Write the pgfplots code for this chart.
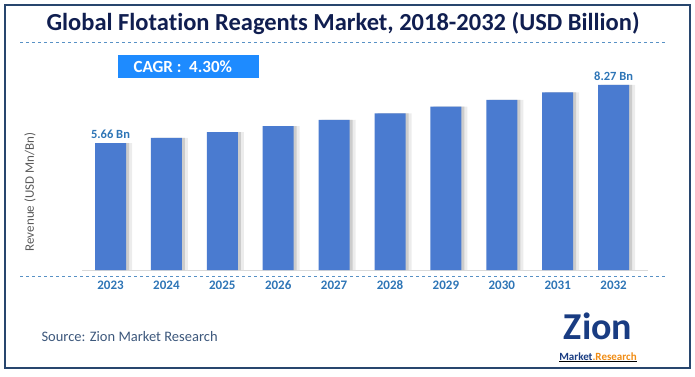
\documentclass[border=0pt]{standalone}
\usepackage{pgfplots}
\pgfplotsset{compat=1.18}
\usepackage{fontspec}
\setmainfont{Carlito}[Ligatures=NoCommon]
\definecolor{barblue}{RGB}{74,123,208}
\definecolor{titlenavy}{RGB}{16,30,80}
\definecolor{labblue}{RGB}{46,117,182}
\definecolor{cagrblue}{RGB}{30,139,255}
\definecolor{frame}{RGB}{40,70,110}
\definecolor{zorange}{RGB}{240,140,20}
\definecolor{znavy}{RGB}{25,60,130}
\begin{document}
\begin{tikzpicture}[x=1pt,y=1pt]
\path (0,0) rectangle (695,376);
\draw[frame,line width=1.2pt] (5,8) rectangle (690,371);
\node[font=\fontsize{24.5}{28}\selectfont\bfseries,text=titlenavy] at (343,353) {Global Flotation Reagents Market, 2018-2032 (USD Billion)};
\draw[labblue!80,dashed,line width=0.6pt] (20,334) -- (665,334);
\fill[cagrblue] (118,298) rectangle (259,321);
\node[font=\fontsize{17}{19}\selectfont\bfseries,text=white,anchor=west] at (130,309.5) {CAGR :\ \ 4.30\%};
\begin{axis}[
  at={(82pt,106pt)}, anchor=south west,
  scale only axis, width=566pt, height=200pt,
  xmin=-0.51, xmax=9.615, ymin=0, ymax=8.93,
  axis y line=none, axis x line*=bottom,
  x axis line style={gray!30,line width=0.8pt,-},
  xtick=data, xtick style={draw=none},
  xticklabels={2023,2024,2025,2026,2027,2028,2029,2030,2031,2032},
  xticklabel style={font=\fontsize{13}{15}\selectfont\bfseries,text=labblue,yshift=-3pt},
  ybar, bar width=31pt,
  clip=false,
  point meta=explicit symbolic,
  nodes near coords={\pgfplotspointmeta},
  nodes near coords style={font=\fontsize{12.5}{14}\selectfont\bfseries,text=labblue,yshift=1pt},
]
\addplot[draw=none,fill=gray!15,bar shift=6pt,nodes near coords={}] table[meta=lab] {
x y lab
0 5.66 {}
1 5.90 {}
2 6.16 {}
3 6.42 {}
4 6.70 {}
5 6.99 {}
6 7.29 {}
7 7.60 {}
8 7.93 {}
9 8.27 {}
};
\addplot[draw=none,fill=gray!40,bar shift=3pt,nodes near coords={}] table[meta=lab] {
x y lab
0 5.66 {}
1 5.90 {}
2 6.16 {}
3 6.42 {}
4 6.70 {}
5 6.99 {}
6 7.29 {}
7 7.60 {}
8 7.93 {}
9 8.27 {}
};
\addplot[draw=none,fill=barblue,bar shift=0pt] table[meta=lab] {
x y lab
0 5.66 {5.66 Bn}
1 5.90 {}
2 6.16 {}
3 6.42 {}
4 6.70 {}
5 6.99 {}
6 7.29 {}
7 7.60 {}
8 7.93 {}
9 8.27 {8.27 Bn}
};
\end{axis}
\draw[labblue!80,dashed,line width=0.6pt] (20,100) -- (665,100);
\node[rotate=90,font=\fontsize{13}{15}\selectfont,text=black!65] at (30,184) {Revenue (USD Mn/Bn)};
\node[anchor=west,font=\fontsize{14.5}{17}\selectfont,text=frame!90] at (38,39) {Source: Zion Market Research};
\node[anchor=base,inner sep=0pt,font=\fontsize{38}{40}\selectfont\bfseries,text=znavy] at (598,37) {Zion};
\node[anchor=base,inner sep=0pt,font=\fontsize{11}{13}\selectfont\bfseries] at (598,16) {\underline{\textcolor{znavy}{Market}\textcolor{zorange}{.Research}}};
\end{tikzpicture}
\end{document}
